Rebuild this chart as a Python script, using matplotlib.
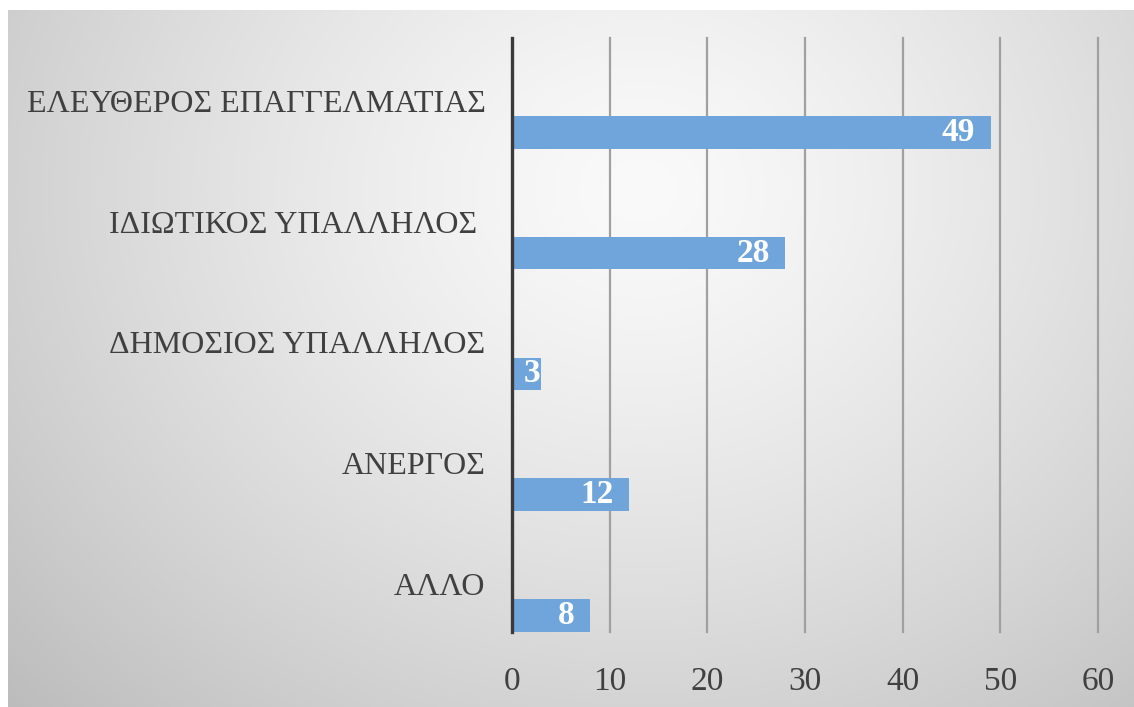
import numpy as np
import matplotlib
matplotlib.use('Agg')
import matplotlib.pyplot as plt

categories = ['ΑΛΛΟ', 'ΑΝΕΡΓΟΣ', 'ΔΗΜΟΣΙΟΣ ΥΠΑΛΛΗΛΟΣ',
              'ΙΔΙΩΤΙΚΟΣ ΥΠΑΛΛΗΛΟΣ ', 'ΕΛΕΥΘΕΡΟΣ ΕΠΑΓΓΕΛΜΑΤΙΑΣ']
values = [8, 12, 3, 28, 49]
xticks = [0, 10, 20, 30, 40, 50, 60]

W, H = 1134, 707
fig = plt.figure(figsize=(W / 100, H / 100), dpi=100)
fig.patch.set_facecolor('white')

# background radial gradient
bg = fig.add_axes([8 / W, 0, 1 - 8 / W, (H - 10) / H], zorder=-5)
yy, xx = np.mgrid[10:H, 8:W]
cx, cy = 640, 190
d = np.sqrt(((xx - cx) / 1.05) ** 2 + ((yy - cy) / 0.9) ** 2)
d = d / d.max()
val = 250 - 62 * d ** 1.3
img = np.clip(val, 0, 255) / 255.0
bg.imshow(np.dstack([img, img, img]), aspect='auto', interpolation='bilinear')
bg.axis('off')

ax = fig.add_axes([512 / W, (H - 632) / H, (1098 - 512) / W, (632 - 38) / H])
ax.set_facecolor('none')

pos = np.arange(len(categories))
ax.barh(pos, values, height=0.27, color='#6FA5DA', zorder=3)
ax.set_xlim(0, 60)
ax.set_ylim(-0.137, 4.78)

for v in xticks[1:]:
    ax.axvline(v, color='#a0a0a0', lw=1.6, zorder=1, clip_on=False)
ax.axvline(0, color='#3a3a3a', lw=2.4, zorder=4, clip_on=False)

for s in ax.spines.values():
    s.set_visible(False)

ax.set_xticks(xticks)
ax.set_xticklabels([str(t) for t in xticks], family='Liberation Serif',
                   fontsize=24, color='#404040')
ax.set_yticks(pos + 0.26)
ax.set_yticklabels(categories, family='Liberation Serif', fontsize=23,
                   color='#404040')
ax.tick_params(axis='x', length=0, pad=25)
ax.tick_params(axis='y', length=0, pad=19)

for p, v in zip(pos, values):
    off = -11 if v >= 5 else -1
    ax.annotate(str(v), xy=(v, p), xytext=(off, 0), textcoords='offset points',
                ha='right', va='center', color='white', fontweight='bold',
                family='Liberation Serif', fontsize=24, zorder=5)

fig.savefig('out.png', dpi=100)
